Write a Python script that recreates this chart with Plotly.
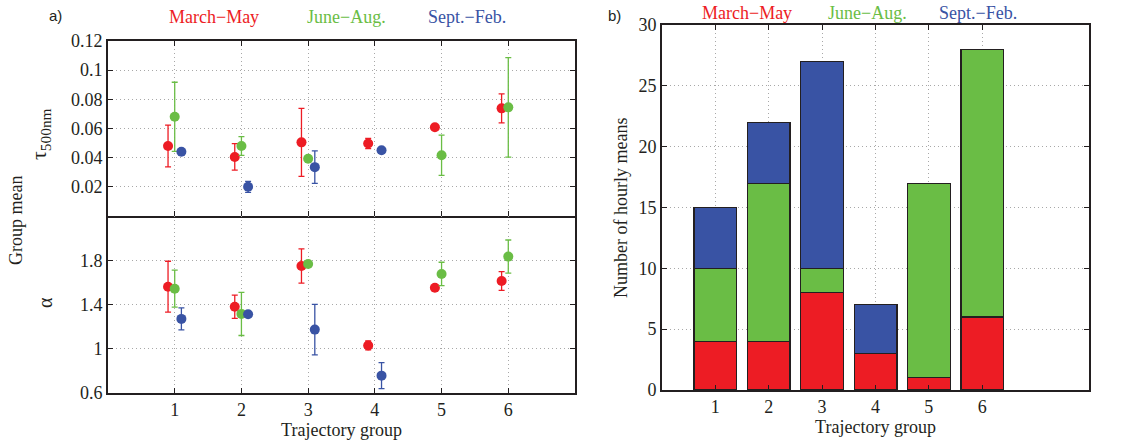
import plotly.graph_objects as go

W, H = 1140, 446

groups = [1, 2, 3, 4, 5, 6]
seasons = ['March\u2212May', 'June\u2212Aug.', 'Sept.\u2212Feb.']
colours = ['#ED1C24', '#6ABD45', '#3953A4']
offsets = [-0.1, 0.0, 0.1]

# group mean aerosol optical depth at 500 nm and its spread
tau_mam = [0.048, 0.0405, 0.0505, 0.0497, 0.0608, 0.0738]
tau_mam_err = [0.0143, 0.0091, 0.0233, 0.0035, 0.0, 0.0100]
tau_jja = [0.0680, 0.0480, 0.0392, None, 0.0417, 0.0745]
tau_jja_err = [0.0237, 0.0064, 0.0, None, 0.0138, 0.0341]
tau_son = [0.0440, 0.0200, 0.0335, 0.0451, None, None]
tau_son_err = [0.0, 0.0038, 0.0111, 0.0, None, None]

# group mean Angstrom exponent and its spread
alpha_mam = [1.561, 1.379, 1.748, 1.030, 1.552, 1.612]
alpha_mam_err = [0.230, 0.105, 0.155, 0.040, 0.0, 0.085]
alpha_jja = [1.543, 1.315, 1.766, None, 1.676, 1.833]
alpha_jja_err = [0.167, 0.195, 0.0, None, 0.106, 0.150]
alpha_son = [1.270, 1.312, 1.173, 0.757, None, None]
alpha_son_err = [0.100, 0.0, 0.228, 0.117, None, None]

# number of hourly means per group and season
count_mam = [4, 4, 8, 3, 1, 6]
count_jja = [6, 13, 2, 0, 16, 22]
count_son = [5, 5, 17, 4, 0, 0]

tau = [tau_mam, tau_jja, tau_son]
tau_err = [tau_mam_err, tau_jja_err, tau_son_err]
alpha = [alpha_mam, alpha_jja, alpha_son]
alpha_err = [alpha_mam_err, alpha_jja_err, alpha_son_err]
counts = [count_mam, count_jja, count_son]

FONT = 'Liberation Serif'
INK = '#231F20'


def px(x):
    return x / W


def py(y):
    return 1 - y / H


fig = go.Figure()

for i in range(3):
    xs = [g + offsets[i] for g in groups]
    for vals, errs, xa, ya in [(tau[i], tau_err[i], 'x', 'y'),
                               (alpha[i], alpha_err[i], 'x2', 'y2')]:
        fig.add_trace(go.Scatter(
            x=xs, y=vals, xaxis=xa, yaxis=ya, mode='markers',
            marker=dict(color=colours[i], size=10),
            error_y=dict(type='data', array=errs, color=colours[i],
                         thickness=1.3, width=3),
            showlegend=False, hoverinfo='skip'))

for i in range(3):
    fig.add_trace(go.Bar(
        x=groups, y=counts[i], xaxis='x3', yaxis='y3', width=0.8,
        marker=dict(color=colours[i], line=dict(color=INK, width=1.3)),
        showlegend=False))

axis_style = dict(showline=True, linecolor=INK, linewidth=1.6,
                  mirror='allticks', ticks='inside', ticklen=5,
                  tickcolor=INK, tickwidth=1.4, automargin=False,
                  showgrid=True, gridcolor='#a8a8a8', griddash='1px,3px',
                  gridwidth=1, zeroline=False,
                  tickfont=dict(family=FONT, size=18, color=INK))
title_font = dict(family=FONT, size=18, color=INK)

left_dom = [px(108), px(575)]
fig.update_layout(
    template='none',
    width=W, height=H,
    margin=dict(l=0, r=0, t=0, b=0),
    plot_bgcolor='white', paper_bgcolor='white',
    barmode='stack',
    xaxis=dict(axis_style, domain=left_dom, range=[0, 7],
               tickvals=groups, showticklabels=False, anchor='y'),
    yaxis=dict(axis_style, domain=[py(216), py(41)], range=[0, 0.12],
               tickvals=[0.02, 0.04, 0.06, 0.08, 0.1, 0.12],
               ticktext=['0.02', '0.04', '0.06', '0.08', '0.1', '0.12'],
               anchor='x'),
    xaxis2=dict(axis_style, domain=left_dom, range=[0, 7],
                tickvals=groups, anchor='y2', mirror=False,
                title=dict(text='Trajectory group', standoff=4,
                           font=title_font)),
    yaxis2=dict(axis_style, domain=[py(393), py(216)], range=[0.6, 2.2],
                tickvals=[0.6, 1, 1.4, 1.8],
                ticktext=['0.6', '1', '1.4', '1.8'], anchor='x2'),
    xaxis3=dict(axis_style, domain=[px(662), px(1089)], range=[0, 8],
                tickvals=groups, anchor='y3',
                title=dict(text='Trajectory group', standoff=4,
                           font=title_font)),
    yaxis3=dict(axis_style, domain=[py(390), py(25)], range=[0, 30],
                tickvals=[0, 5, 10, 15, 20, 25, 30], anchor='x3'),
)

annots = [
    ('a)', 55, 16, INK, 0, 'Liberation Sans', 15),
    ('b)', 614, 16, INK, 0, 'Liberation Sans', 15),
    ('Group mean', 16, 221, INK, -90, FONT, 18),
    ('\u03c4<sub>500nm</sub>', 40, 134, INK, -90, FONT, 22),
    ('\u03b1', 45, 303, INK, -90, FONT, 20),
    ('Number of hourly means', 621, 208, INK, -90, FONT, 18),
]
left_title_x = [214, 346, 467]
right_title_x = [747, 867, 978]
for i in range(3):
    annots.append((seasons[i], left_title_x[i], 17, colours[i], 0, FONT, 18))
    annots.append((seasons[i], right_title_x[i], 13, colours[i], 0, FONT, 18))

for text, x, y, col, ang, fam, size in annots:
    fig.add_annotation(text=text, x=px(x), y=py(y), xref='paper',
                       yref='paper', showarrow=False, textangle=ang,
                       xanchor='center', yanchor='middle',
                       font=dict(family=fam, size=size, color=col))

# the page's default body margin would push the figure off by 8px
fig.write_html("out.html", config={'displayModeBar': False},
               post_script="document.body.style.margin = '0';")
